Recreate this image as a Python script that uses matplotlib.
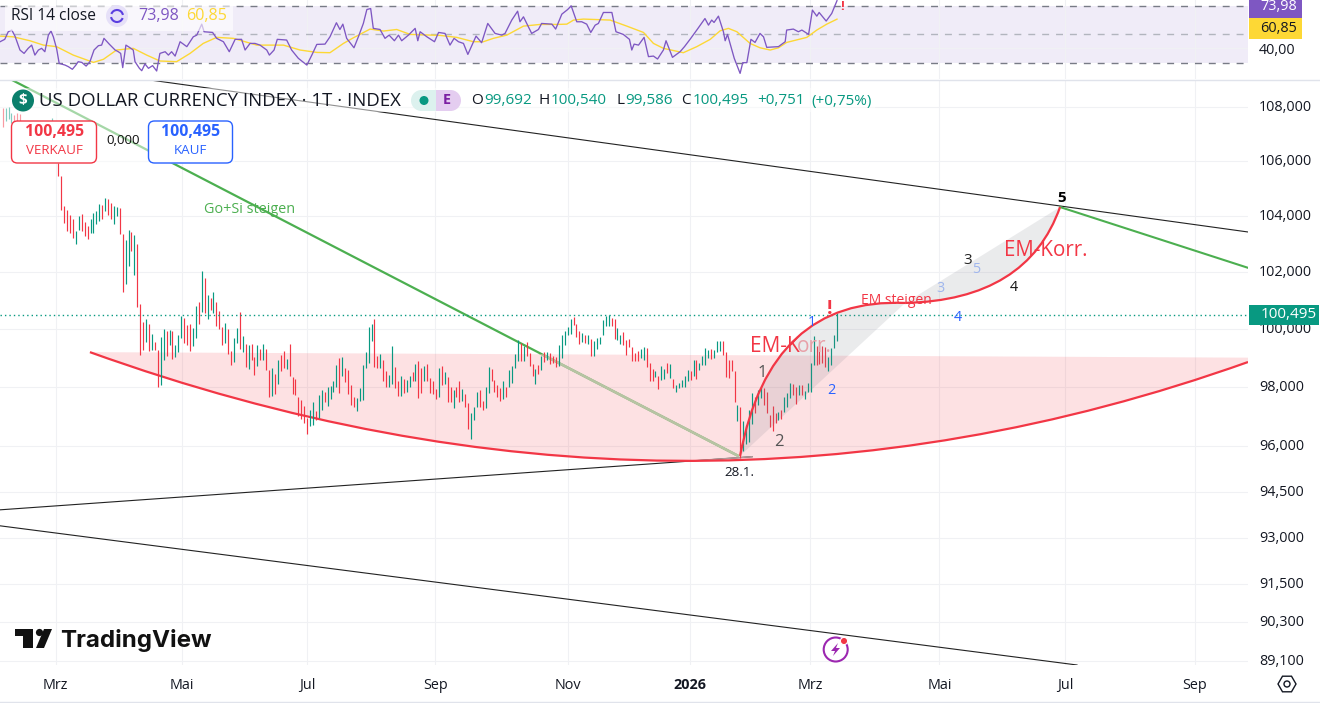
import numpy as np
import matplotlib
matplotlib.use("Agg")
import matplotlib.pyplot as plt
from matplotlib.patches import Circle, FancyBboxPatch, Polygon, Rectangle, RegularPolygon, Arc, PathPatch
from matplotlib.path import Path
from matplotlib.ticker import NullLocator
from matplotlib.transforms import ScaledTranslation

plt.rcParams["font.family"] = ["Open Sans", "DejaVu Sans"]

# daily bars: high, low, up(1)/down(0)
highs = [107.96, 107.96, 108.03, 107.8, 107.7, 107.8, 107.75, 107.5, 107.3, 107.2, 107.1, 107.0, 106.9, 107.0, 107.1, 107.2, 107.4, 107.6, 107.4, 106.3,
         105.45, 104.35, 104.2, 104.05, 103.87, 103.46, 104.01, 104.07, 103.77, 103.62, 103.89, 104.11, 104.17, 104.42, 104.4, 104.64, 104.6, 104.48, 104.35, 104.33, 104.27,
         103.35, 103.15, 103.5, 103.43, 103.32, 103.0, 100.85, 100.23, 100.33, 100.16, 99.81, 99.54, 99.26, 99.71, 99.98,
         99.91, 99.97, 99.91, 99.45, 99.79, 100.45, 100.37, 100.14, 100.16, 100.02, 100.8, 100.92, 102.01, 101.78, 101.19, 101.08, 101.29, 100.95, 100.63, 100.06,
         100.2, 99.99, 99.24, 99.68, 100.02, 100.6, 99.76, 99.47, 99.42, 99.47, 99.03, 99.43, 99.3, 99.47, 99.3, 98.59, 98.65, 98.44, 98.91, 99.1,
         99.22, 98.96, 99.47, 98.33, 98.27, 97.67, 97.56, 97.36, 96.93, 97.21, 97.48, 97.18, 97.73, 97.9, 97.82, 97.99, 98.02, 98.19, 98.76, 98.99,
         99.03, 98.65, 98.59, 98.07, 97.67, 97.61, 97.96, 98.74, 99.2, 100.06,
         100.16, 100.33, 99.05, 99.13, 98.91, 98.55, 98.42, 99.41, 98.68, 98.19, 98.36, 98.27, 98.24, 98.36, 98.5, 98.78, 98.9, 98.65, 98.7, 98.78,
         98.3, 98.19, 97.92, 98.65, 98.7, 98.51, 98.34, 97.99, 97.9, 97.99, 98.19, 97.92, 97.76, 97.44, 97.13, 97.33, 97.84, 97.9, 97.52, 97.98,
         98.67, 98.61, 98.24, 98.07, 97.96, 98.19, 98.01, 98.59, 98.7, 99.13, 99.62, 99.51, 99.39, 99.53, 99.16, 98.78, 98.61, 98.74, 99.05, 99.2,
         99.2, 99.16, 99.05, 99.01, 99.45, 99.77, 99.91, 100.06, 100.33, 100.42, 100.16, 99.93, 99.85, 99.79, 99.77, 99.64, 99.56, 99.68, 99.7,
         100.29, 100.45, 100.48, 100.37, 100.33, 100.02, 99.77, 99.88, 99.6, 99.64, 99.37, 99.16, 99.22, 99.3, 99.36, 99.33, 98.82, 98.62, 98.53, 98.36,
         98.7, 98.62, 98.82, 98.79, 98.27, 98.05, 98.13, 98.24, 98.36, 98.59, 98.55, 98.93, 98.91, 98.82, 99.05, 99.33, 99.28, 99.3, 99.28, 99.59,
         99.56, 99.56, 99.2, 98.91, 98.91, 98.53, 97.38, 97.33, 96.83, 96.7, 97.21, 97.79, 97.67, 97.9, 98.01, 97.96, 97.82, 97.06, 97.35, 97.13,
         97.15, 97.21, 97.64, 97.79, 98.13, 98.1, 98.01, 98.05, 98.07, 97.87, 98.13, 98.82, 99.74, 99.41, 99.45, 99.39, 99.36, 99.02, 99.33, 99.79, 100.54]
lows = [107.26, 107.5, 107.55, 107.4, 107.2, 107.3, 107.3, 107.0, 106.9, 106.8, 106.7, 106.6, 106.5, 106.5, 106.6, 106.7, 106.9, 106.5, 106.4, 105.45,
        104.23, 103.75, 103.44, 103.38, 103.2, 103.0, 103.5, 103.46, 103.26, 103.16, 103.38, 103.38, 103.71, 103.81, 103.89, 104.17, 104.05, 103.87, 103.72, 104.01, 103.35,
        101.3, 101.57, 102.2, 102.75, 101.88, 100.75, 99.1, 99.27, 99.54, 99.24, 99.27, 99.27, 98.01, 98.07, 98.92,
        99.05, 99.45, 98.96, 99.03, 99.2, 99.68, 99.5, 99.42, 99.24, 99.39, 99.68, 100.16, 100.57, 100.54, 100.34, 100.65, 100.56, 100.11, 100.0, 99.42,
        99.51, 99.14, 98.76, 98.85, 99.51, 99.3, 99.2, 98.68, 98.61, 98.93, 98.42, 98.7, 98.91, 98.93, 98.59, 97.65, 97.7, 97.76, 98.11, 98.55,
        98.65, 98.61, 98.38, 97.75, 97.73, 97.02, 96.9, 96.78, 96.41, 96.66, 96.72, 96.89, 96.93, 97.21, 97.48, 97.35, 97.58, 97.84, 97.99, 97.79,
        98.38, 98.17, 97.75, 97.38, 97.33, 97.18, 97.52, 97.56, 98.65, 98.82,
        99.59, 98.68, 98.65, 98.65, 98.21, 97.99, 98.01, 98.09, 97.96, 97.69, 97.69, 97.79, 97.82, 97.99, 98.19, 98.21, 97.61, 97.79, 98.19, 98.19,
        97.79, 97.75, 97.59, 97.67, 98.05, 98.11, 97.48, 97.48, 97.29, 97.64, 97.5, 97.53, 97.33, 96.58, 96.24, 96.89, 97.3, 97.3, 97.23, 97.27,
        97.79, 98.21, 97.82, 97.67, 97.52, 97.58, 97.65, 97.99, 98.13, 98.65, 98.88, 98.88, 98.9, 99.05, 98.7, 98.36, 98.09, 98.44, 98.56, 98.85,
        98.93, 98.78, 98.82, 98.67, 98.7, 98.99, 99.45, 99.79, 99.82, 100.14, 99.71, 99.47, 99.53, 99.51, 99.47, 99.07, 99.07, 99.31, 99.47,
        99.79, 100.08, 100.08, 100.08, 99.64, 99.62, 99.47, 99.45, 99.1, 99.36, 98.87, 98.87, 98.87, 98.99, 98.93, 98.67, 98.21, 98.19, 98.34, 97.93,
        98.24, 98.28, 98.47, 98.3, 97.96, 97.82, 97.96, 97.99, 98.01, 98.19, 98.24, 98.36, 98.28, 98.59, 98.74, 98.76, 98.99, 98.97, 98.99, 99.2,
        99.22, 99.1, 98.34, 98.3, 98.53, 97.48, 96.84, 95.6, 95.84, 96.06, 96.14, 96.75, 97.1, 97.38, 97.61, 97.38, 97.12, 96.64, 96.52, 96.79,
        96.87, 96.9, 97.15, 97.33, 97.61, 97.71, 97.41, 97.71, 97.73, 97.59, 97.82, 97.84, 98.76, 98.76, 98.78, 98.82, 98.67, 98.55, 98.74, 99.33, 99.586]
ups = [0, 1, 1, 1, 0, 0, 0, 0, 0, 1, 0, 1, 0, 1, 0, 1, 0, 1, 0, 0,
       0, 0, 0, 0, 0, 1, 1, 0, 0, 0, 1, 1, 1, 1, 0, 1, 0, 0, 1, 1, 0,
       0, 1, 1, 0, 1, 0, 0, 0, 1, 0, 1, 0, 0, 1, 1,
       0, 1, 0, 1, 1, 1, 0, 0, 0, 1, 1, 0, 1, 0, 1, 0, 1, 0, 0, 0,
       1, 0, 0, 1, 1, 0, 1, 0, 1, 0, 0, 1, 0, 1, 0, 0, 1, 0, 1, 0,
       0, 1, 0, 0, 0, 0, 0, 0, 0, 1, 1, 0, 1, 1, 0, 1, 1, 1, 1, 0,
       1, 0, 0, 0, 0, 1, 1, 1, 1, 1,
       1, 0, 0, 1, 0, 0, 1, 1, 0, 0, 1, 0, 1, 1, 0, 1, 0, 0, 1, 0,
       0, 0, 0, 1, 0, 1, 0, 0, 1, 0, 0, 1, 0, 0, 1, 1, 1, 0, 0, 1,
       1, 0, 0, 0, 0, 1, 0, 1, 1, 1, 1, 0, 1, 0, 0, 0, 1, 0, 1, 0,
       1, 0, 0, 0, 1, 1, 1, 1, 1, 0, 0, 0, 1, 0, 1, 0, 1, 1, 1,
       1, 1, 1, 0, 0, 1, 1, 0, 0, 0, 0, 0, 0, 1, 1, 0, 0, 0, 1, 0,
       1, 1, 0, 1, 0, 1, 1, 1, 1, 1, 0, 1, 0, 1, 1, 1, 1, 0, 1, 1,
       1, 0, 0, 0, 0, 0, 1, 0, 1, 1, 1, 1, 0, 1, 1, 0, 0, 0, 0, 0,
       1, 0, 1, 1, 1, 0, 0, 1, 0, 1, 1, 1, 1, 0, 0, 0, 0, 1, 1, 1, 1]

# RSI line vertices (bar number, value)
rsi_x = [-0.9, 0.7, 1.9, 3.1, 4.2, 5.9, 7.3, 8.7, 9.9, 11, 12.2, 13.3, 14.4, 15.6, 16.5, 17.3, 18.4, 19.3, 21.3, 22.4, 23.8, 25, 25.8, 27, 28.5, 29.8,
         31.2, 32.7, 33.8, 34.6, 36.4, 38.4, 39.5, 40.3, 41, 42.1, 43.5, 44.6, 45.2, 46.7, 47.5, 48.6, 49.8, 51.2, 52.6, 53.7, 55.5, 56.6, 57.7, 58.9,
         60.6, 62.9, 65.1, 66.3, 68, 68.8, 71.7, 73.1, 75.4, 77.4, 79.4, 81.6, 82.8, 84.5, 86.2, 87.9, 90.2, 91.1, 92.7, 93.8, 97, 98.7, 101, 103.9,
         105.6, 107.3, 110.1, 111.8, 114, 115.2, 116.2, 117.5, 120, 121.5, 123.2, 124.4, 125.7, 126.6, 128.9, 130.6, 132, 133.8, 135.2, 136.3, 138.6,
         140.9, 141.8, 142.6, 144.9, 147.5, 148.9, 151.1, 152.8, 154.2, 155.7, 157.4, 158.9, 161.7, 163.6, 165.7, 168.2, 170.5, 171.6, 173.9, 175.9,
         176.7, 177.9, 179, 180.7, 183, 184.1, 187.6, 188.9, 191, 193, 194.2, 196.1, 197.8, 199.5, 200.9, 202.4, 203.5, 205.2, 208.1, 209.5, 212,
         214.1, 214.9, 215.7, 217.2, 219.1, 220.6, 222.3, 223.7, 225.7, 226.6, 228.8, 231.4, 232.9, 234.8, 237.1, 239.9, 241.1, 242.2, 243, 244.5,
         246.2, 246.8, 247.6, 249.9, 251.9, 252.8, 254.2, 255.6, 257, 258.7, 259.9, 261, 265, 267.3, 267.8, 270.1, 271.8, 273, 275.3, 276.6, 278.1,
         278.9, 281.3, 283.2, 285]
rsi_y = [44.8, 46.5, 51.9, 53.1, 48.8, 38.9, 36.5, 40.1, 42.4, 35.3, 38.9, 40.1, 37.7, 49.5, 52.4, 48.3, 40.1, 29.4, 28.2, 27.1, 25.2, 28.2, 30.6, 30.1, 27.5, 30.6,
         38.9, 42, 42.4, 47.2, 43.1, 38.9, 37.7, 36.5, 26.4, 42.4, 40.5, 38.9, 30.6, 25.9, 24.2, 29, 25.9, 27.8, 24, 36.5, 37.7, 35.3, 37.7, 34.6,
         44.8, 41.3, 48.3, 49.5, 57.3, 51.9, 51.4, 47.2, 44.8, 37.7, 46.5, 46.5, 38.9, 43.6, 43.6, 42.4, 38.9, 35.3, 38.9, 46.5, 46, 38.9, 33, 28.2,
         35.3, 42.9, 43.1, 48.3, 58.3, 53.5, 57.3, 47.2, 40.5, 48.3, 57.8, 67.7, 68.4, 54.3, 53.5, 47.2, 49.5, 45.5, 49.5, 45.5, 49.5,
         54.3, 45.5, 51.9, 48.3, 44.8, 51.4, 50.7, 42.4, 47.2, 44.8, 43.6, 35.8, 48.8, 44.1, 57.8, 50.7, 49.5, 50.7, 60.2, 66.5,
         59, 62.5, 57.8, 50.7, 53.5, 57.8, 57.3, 53.8, 64.4, 67.7, 70.3, 59, 59, 57.3, 51.4, 56.6, 57.8, 65.6, 65.6, 51.9, 50,
         46.5, 38.9, 43.1, 42.4, 47.9, 34.2, 34.6, 32.5, 38.9, 45.5, 33.7, 37.7, 41.3, 46.5, 53.1, 61.3, 56.6, 60.2, 58.5, 63,
         51.9, 45.5, 50, 33, 22.3, 29.9, 29.9, 46.5, 44.3, 50.7, 48.3, 40.8, 41.3, 44.8, 53.1, 53.8, 51.9, 53.1, 50, 67.3, 63,
         65.6, 59.5, 64.9, 73.98]
rsi_ma_x = [-0.9, 3.6, 9.3, 13.9, 18.4, 24.1, 31, 34.4, 38.9, 44.6, 49.2, 53.7, 59.4, 64, 68.5, 73.1, 78.8, 86.8, 95.9, 101.6, 107.3, 111.8, 116.4, 119.8,
            125.5, 130.1, 134.6, 139.2, 149.4, 155.1, 160.8, 164.2, 167.6, 172.2, 177.9, 183.6, 189.3, 192.7, 195, 198.4, 207.5, 213.2, 218.9, 222.3,
            225.7, 232.5, 237.1, 241.7, 245.1, 247.9, 250.8, 255.3, 258.7, 262.2, 265, 267.8, 274.7, 278.1, 281.5, 285]
rsi_ma_y = [48.8, 48.3, 45.5, 42.4, 41.3, 35.3, 30.1, 32.3, 38.9, 40.1, 35.3, 31.1, 30.6, 36.5, 43.6, 47.9, 47.2, 42.4, 42.4, 38.9, 37.2, 37, 43.6, 47.6,
            53.8, 52.4, 53.5, 50, 49.3, 47.9, 44.8, 44.8, 47.2, 49.5, 55.9, 57.1, 57.1, 57.3, 60.2, 60.9, 60.2, 55.9, 51.4, 43.6,
            40.1, 37, 41.3, 46.5, 52.6, 54.3, 51.9, 43.6, 40.5, 38.9, 40.5, 44.3, 47.9, 53.1, 57.3, 60.85]

# drawings, in bar number / price
top_line_x = [50.3, 425.4]
top_line_y = [109.03, 103.42]
green_x = [3.2, 251.2]
green_y = [109.03, 95.68]
green2_x = [361.2, 425.4]
green2_y = [104.32, 102.14]
rise_line_x = [-0.92, 256]
rise_line_y = [93.90, 95.65]
low_line_x = [-0.92, 367]
low_line_y = [93.38, 88.97]

# the three arcs: start, bend point, end
bowl_x = [29.8, 231.4, 425.4]
bowl_y = [99.19, 92.13, 98.85]
bowl_top_y = 99.0
arc1_x = [251.9, 262.1, 308.3]
arc1_y = [95.68, 101.11, 100.9]
arc2_x = [308.3, 350.0, 361.2]
arc2_y = [100.9, 101.0, 104.32]

last_price = 100.495

price_ticks = [108, 106, 104, 102, 100, 98, 96, 94.5, 93, 91.5, 90.3, 89.1]
price_labels = ["108,000", "106,000", "104,000", "102,000", "100,000", "98,000", "96,000", "94,500", "93,000", "91,500", "90,300", "89,100"]
month_ticks = [18.1, 61.15, 104.1, 147.8, 193.0, 234.9, 275.9, 320.0, 363.0, 407.2]
month_labels = ["Mrz", "Mai", "Jul", "Sep", "Nov", "2026", "Mrz", "Mai", "Jul", "Sep"]

UP = "#089981"
DOWN = "#f23645"
GREEN = "#4caf50"
PURPLE = "#7e57c2"
YELLOW = "#fdd835"
GRID = "#f0f1f4"
INK = "#131722"

W, H = 1320, 703
fig = plt.figure(figsize=(W / 100, H / 100), dpi=100, facecolor="white")
raise_labels = ScaledTranslation(0, 1.5 / 100, fig.dpi_scale_trans)

# RSI pane
rax = fig.add_axes([0, 1 - 79 / H, 1248 / W, 79 / H])
rax.set_xlim(-0.92, 425.4)
rax.set_ylim(18.3, 74.47)
rax.axhspan(30, 70, color=PURPLE, alpha=0.11, lw=0, zorder=0.5)
rax.axhline(70, color="#787b86", lw=1, dashes=(5, 5), zorder=1)
rax.axhline(30, color="#787b86", lw=1, dashes=(5, 5), zorder=1)
rax.axhline(50, color="#b2b5be", lw=1, dashes=(5, 5), zorder=1)
rax.plot(rsi_ma_x, rsi_ma_y, color=YELLOW, lw=1.0, zorder=3)
rax.plot(rsi_x, rsi_y, color=PURPLE, lw=0.95, zorder=4)
rax.set_xticks(month_ticks)
rax.set_yticks([40])
rax.set_yticklabels(["40,00"], fontsize=10.4, color=INK)
rax.yaxis.tick_right()
rax.tick_params(length=0, pad=8, labelbottom=False)
rax.grid(True, color=GRID, lw=0.8, zorder=0)
rax.set_axisbelow(True)
for s in rax.spines.values():
    s.set_visible(False)

# main pane
ax = fig.add_axes([0, 1 - 665 / H, 1248 / W, 585 / H])
ax.set_yscale("log")
ax.set_xlim(-0.92, 425.4)
ax.set_ylim(88.97, 109.03)
ax.set_yticks(price_ticks)
ax.set_yticklabels(price_labels, fontsize=10.4, color=INK)
ax.yaxis.set_minor_locator(NullLocator())
ax.yaxis.tick_right()
ax.set_xticks(month_ticks)
ax.set_xticklabels(month_labels, fontsize=10.4, color=INK)
ax.get_xticklabels()[5].set_fontweight("bold")
ax.tick_params(length=0)
ax.tick_params(axis="y", pad=8)
ax.tick_params(axis="x", pad=9.6)
for lbl in ax.get_yticklabels():
    lbl.set_transform(lbl.get_transform() + raise_labels)
ax.grid(True, color=GRID, lw=0.8, zorder=0)
ax.set_axisbelow(True)
for s in ax.spines.values():
    s.set_visible(False)

ax.plot(top_line_x, top_line_y, color="#222222", lw=0.8, zorder=1)
ax.plot(rise_line_x, rise_line_y, color="#222222", lw=0.8, zorder=1)
ax.plot(low_line_x, low_line_y, color="#222222", lw=0.8, zorder=1)
ax.plot(green_x, green_y, color=GREEN, lw=1.6, zorder=1)
ax.plot(green2_x, green2_y, color=GREEN, lw=1.5, zorder=1)

# pink bowl
curve3 = [Path.MOVETO, Path.CURVE3, Path.CURVE3]
bowl_verts = list(zip(bowl_x, bowl_y))
bowl_path = Path(bowl_verts + [(bowl_x[2], bowl_top_y), bowl_verts[0], bowl_verts[0]],
                 curve3 + [Path.LINETO, Path.LINETO, Path.CLOSEPOLY])
bowl_patch = PathPatch(bowl_path, fc=DOWN, alpha=0.15, ec="none", zorder=2)
ax.add_patch(bowl_patch)
ax.add_patch(PathPatch(Path(bowl_verts, curve3), fc="none", ec=DOWN, lw=1.6, zorder=2.5))

# trend lines look washed out where they run under the bowl
under_green, = ax.plot(green_x, green_y, color="#b6c4a3", lw=1.9, zorder=2.2)
under_green.set_clip_path(bowl_patch)
under_rise, = ax.plot(rise_line_x, rise_line_y, color="#b09c9c", lw=1.0, zorder=2.2)
under_rise.set_clip_path(bowl_patch)

# bars
xs = np.arange(len(highs))
bar_colors = [UP if u else DOWN for u in ups]
ax.vlines(xs, lows, highs, colors=bar_colors, lw=0.85, zorder=3)
ax.axhline(last_price, color=UP, lw=1, dashes=(1, 2.2), zorder=3)

ov = fig.add_axes([0, 0, 1, 1], zorder=10)
ov.set_xlim(0, W)
ov.set_ylim(H, 0)
ov.axis("off")
ov.patch.set_alpha(0)

# grey wave fills
arc1_verts = list(zip(arc1_x, arc1_y))
arc2_verts = list(zip(arc2_x, arc2_y))
arc1_fill = PathPatch(Path(arc1_verts + [arc1_verts[0], arc1_verts[0]], curve3 + [Path.LINETO, Path.CLOSEPOLY]),
                      fc="#787b86", alpha=0.15, ec="none", zorder=4)
arc2_fill = PathPatch(Path(arc2_verts + [arc2_verts[0], arc2_verts[0]], curve3 + [Path.LINETO, Path.CLOSEPOLY]),
                      fc="#787b86", alpha=0.15, ec="none", zorder=4)
ax.add_patch(arc1_fill)
ax.add_patch(arc2_fill)
# the label runs under the grey wave, so its tail is pale
ax.text(750, 347, "EM-K", transform=ov.transData, color=DOWN, fontsize=15, va="center", zorder=4.2)
ax.text(832, 347, "orr.", transform=ov.transData, color="#e8a0a8", fontsize=15, va="center", ha="right", zorder=4.2)
ax.add_patch(PathPatch(Path(arc1_verts, curve3), fc="none", ec=DOWN, lw=1.6, zorder=5))
ax.add_patch(PathPatch(Path(arc2_verts, curve3), fc="none", ec=DOWN, lw=1.6, zorder=5))

# washes behind the legends
ov.add_patch(Rectangle((0, 88), 875, 24, fc="white", alpha=0.5, ec="none"))
ov.add_patch(Rectangle((0, 112), 235, 52, fc="white", alpha=0.5, ec="none"))
ov.add_patch(Rectangle((5, 6), 228, 25, fc="white", alpha=0.62, ec="none"))


def label(x, y, s, color=INK, size=10.4, ha="center", weight="normal"):
    return ov.text(x, y, s, color=color, fontsize=size, ha=ha, va="center", fontweight=weight)


# chart annotations
label(249.5, 209.5, "Go+Si steigen", GREEN, 10.4)
label(896, 300, "EM steigen", DOWN, 10)
label(1046, 251, "EM-Korr.", DOWN, 14.8)
label(739, 472.5, "28.1.", INK, 9.6)
label(123, 141, "0,000", "#111111", 9.6)
label(812, 322.5, "1", "#2962ff", 10.2)
label(831, 390.5, "2", "#2962ff", 10.4)
label(940, 289, "3", "#9fb6ee", 10.4)
label(976, 269.5, "5", "#9fb6ee", 10.4)
label(958, 317.5, "4", "#2962ff", 10.4)
label(967.5, 261, "3", "#222222", 11)
label(1014, 287.5, "4", "#111111", 10.4)
label(1061.5, 198, "5", "#000000", 11, weight="bold")
label(762, 373, "1", "#555555", 12)
label(779, 442, "2", "#555555", 12)
label(830, 309, "!", DOWN, 14, weight="bold")
label(842, 6.5, "!", DOWN, 9.5, weight="bold")

# RSI legend
label(11, 16, "RSI 14 close", INK, 11.2, ha="left")
ov.add_patch(Circle((117, 16), 11, fc="#e6e0f8", ec="none"))
ov.add_patch(Arc((117, 16), 12, 12, theta1=20, theta2=170, ec="#5b3fe0", lw=1.5))
ov.add_patch(Arc((117, 16), 12, 12, theta1=200, theta2=350, ec="#5b3fe0", lw=1.5))
label(138, 16, "73,98", PURPLE, 11.6, ha="left")
label(186, 16, "60,85", YELLOW, 11.6, ha="left")

# symbol legend
ov.add_patch(Circle((23, 100.5), 11, fc="#0b7f6c", ec="none"))
label(23, 100, "$", "white", 11, weight="bold")
label(39, 101, "US DOLLAR CURRENCY INDEX · 1T · INDEX", INK, 13.4, ha="left")
ov.add_patch(Circle((421.5, 100.5), 10.5, fc="#dcf1ee", ec="none"))
ov.add_patch(Rectangle((421.5, 90), 14.5, 21, fc="#dcf1ee", ec="none"))
ov.add_patch(Circle((424, 100.5), 4.5, fc=UP, ec="none"))
ov.add_patch(Rectangle((436, 90), 14, 21, fc="#e4cdf0", ec="none"))
ov.add_patch(Circle((450.5, 100.5), 10.5, fc="#e4cdf0", ec="none"))
label(447, 100.5, "E", "#7b1fa2", 10.4, weight="bold")
for lx, s, col in [(471, "O", INK), (484, "99,692", UP), (539, "H", INK), (551, "100,540", UP), (616, "L", INK), (625, "99,586", UP),
                   (681, "C", INK), (693, "100,495", UP), (757, "+0,751", UP), (811, "(+0,75%)", UP)]:
    label(lx, 101, s, col, 11, ha="left")

# buy / sell boxes
ov.add_patch(FancyBboxPatch((11.5, 121), 85, 42, boxstyle="round,pad=0,rounding_size=6", fc="white", ec=DOWN, lw=1))
ov.add_patch(FancyBboxPatch((148.5, 121), 84, 42, boxstyle="round,pad=0,rounding_size=6", fc="white", ec="#2962ff", lw=1))
label(54.5, 132.5, "100,495", DOWN, 11.4, weight="bold")
label(54.5, 150, "VERKAUF", DOWN, 9.6)
label(190.5, 132.5, "100,495", "#2962ff", 11.4, weight="bold")
label(190.5, 150, "KAUF", "#2962ff", 9.6)

# right scale tags
ov.add_patch(Rectangle((1249, 305), 70, 20, fc=UP, ec="none"))
label(1261, 314.5, "100,495", "white", 11, ha="left")
ov.add_patch(Rectangle((1249, 0), 53, 18, fc=PURPLE, ec="none"))
label(1260, 7, "73,98", "white", 10.4, ha="left")
ov.add_patch(Rectangle((1249, 18), 53, 21, fc=YELLOW, ec="none"))
label(1260, 28, "60,85", INK, 10.4, ha="left")

# pane borders
ov.plot([0, W], [79.5, 79.5], color="#e0e3eb", lw=1)
ov.plot([0, W], [701.5, 701.5], color="#e0e3eb", lw=1)

# settings icon
ov.add_patch(RegularPolygon((1287, 684), 6, radius=9, orientation=np.pi / 6, fc="none", ec=INK, lw=1))
ov.add_patch(Circle((1287, 684), 3, fc="none", ec=INK, lw=1))

# TradingView logo
ov.add_patch(Polygon([(15, 629), (33, 629), (33, 648), (23, 648), (23, 636), (15, 636)], fc="#111111", ec="none"))
ov.add_patch(Circle((39.5, 632.5), 3.6, fc="#111111", ec="none"))
ov.add_patch(Polygon([(44, 629), (52, 629), (44, 648), (36, 648)], fc="#111111", ec="none"))
ov.text(60.5, 640, "TradingView", color="#111111", fontsize=17.4, fontweight="bold", family=["Inter", "DejaVu Sans"], va="center")

# lightning icon
ov.add_patch(Circle((835.7, 649.5), 12, fc="white", ec="#9c27b0", lw=1.5))
ov.add_patch(Polygon([(838, 643), (831, 651), (835, 651), (833, 656), (840, 648), (836, 648)], fc="#9c27b0", ec="none"))
ov.add_patch(Circle((844, 641), 3.6, fc="#f23645", ec="white", lw=0.8))

fig.savefig("out.png", dpi=100, facecolor="white")
